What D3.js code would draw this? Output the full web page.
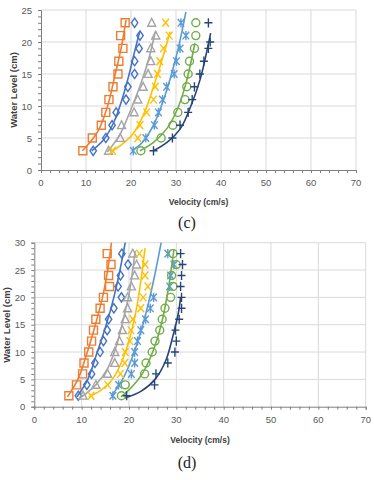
<!DOCTYPE html>
<html>
<head>
<meta charset="utf-8">
<script src="https://cdn.jsdelivr.net/npm/d3@7"></script>
<style>
  body { margin: 0; background: #fff; }
  svg { display: block; }
</style>
</head>
<body>
<svg id="chart" width="374" height="480"></svg>
<script>
const seriesColors = ["#ED7D31", "#4472C4", "#A5A5A5", "#FFC000", "#5B9BD5", "#70AD47", "#264478"];
const seriesMarkers = ["square", "diamond", "triangle", "x", "star", "circle", "plus"];

const xTicks = [0, 10, 20, 30, 40, 50, 60, 70];
const yTicksC = [0, 5, 10, 15, 20, 25];
const yTicksD = [0, 5, 10, 15, 20, 25, 30];

// panel (c) measured points [velocity, water level]
const pointsC = [
    [[9.3,3],[11.4,5],[13.4,7],[14.4,9],[15.1,11],[16.0,13],[17.1,15],[17.3,17],[18.2,19],[17.7,21],[18.7,23]],
    [[11.6,3],[14.4,5],[15.8,7],[16.7,9],[18.9,11],[19.3,13],[20.8,15],[20.8,17],[21.8,19],[22.0,21],[20.8,23]],
    [[15.0,3],[17.6,5],[17.9,7],[20.7,9],[21.5,11],[22.7,13],[23.8,15],[24.4,17],[24.4,19],[25.5,21],[24.6,23]],
    [[15.9,3],[21.5,5],[22.0,7],[23.5,9],[25.0,11],[25.4,13],[25.9,15],[26.4,17],[27.2,19],[28.5,21],[27.7,23]],
    [[20.5,3],[23.3,5],[25.2,7],[26.1,9],[27.0,11],[27.9,13],[29.6,15],[30.1,17],[30.9,19],[32.2,21],[31.1,23]],
    [[22.2,3],[26.7,5],[29.3,7],[30.4,9],[32.0,11],[32.4,13],[32.7,15],[33.0,17],[34.1,19],[34.4,21],[34.4,23]],
    [[25.0,3],[29.2,5],[30.9,7],[32.7,9],[33.6,11],[34.1,13],[35.3,15],[36.2,17],[37.2,19],[37.6,20],[37.2,23]]
];
// panel (c) trendlines
const trendsC = [
    [[9.2,3],[12.6,6],[14.8,10],[16.5,15],[17.8,19],[18.9,23.4]],
    [[11.3,3],[14.0,4.8],[16.2,7.5],[18.0,11],[19.6,15],[20.8,18.5],[21.9,21.5]],
    [[14.7,2.8],[17.5,5.5],[20.0,9.5],[22.2,13.5],[24.0,17.5],[25.4,21.6]],
    [[15.7,2.9],[18.0,4.0],[20.5,5.7],[23.0,9],[25.0,13],[26.8,17],[28.7,21.6]],
    [[20.2,3],[22.5,4.3],[25.0,7],[27.0,10.5],[28.8,14.5],[30.5,19],[32.2,24.7]],
    [[22.0,3],[25.0,4.3],[28.0,6.5],[30.3,9.5],[32.2,13.5],[34.2,19.8]],
    [[25.0,3],[28.0,4.3],[31.0,6.5],[33.3,10],[35.3,14],[37.7,21.4]]
];

// panel (d) measured points
const pointsD = [
    [[7.3,2],[8.9,4],[10.2,6],[10.5,8],[11.5,10],[12.1,12],[12.5,14],[13.0,16],[13.9,18],[14.6,20],[15.9,22],[15.7,24],[16.2,26],[15.4,28]],
    [[9.3,2],[11.1,4],[12.1,6],[12.8,8],[13.9,10],[14.6,12],[15.4,14],[15.7,16],[16.8,18],[18.4,20],[17.7,22],[18.2,24],[19.8,26],[18.5,28]],
    [[10.3,2],[13.0,4],[15.5,6],[17.0,8],[17.0,10],[18.0,12],[18.6,14],[19.2,16],[19.7,18],[19.7,20],[20.5,22],[21.2,24],[21.6,26],[20.8,28]],
    [[12.0,2],[15.5,4],[18.2,6],[19.1,8],[19.2,10],[20.2,12],[20.4,14],[20.8,16],[22.5,18],[23.0,20],[24.0,22],[23.4,24],[23.4,26],[22.2,28]],
    [[16.6,2],[17.8,4],[20.5,6],[21.2,8],[21.2,10],[21.8,12],[22.5,14],[23.5,16],[24.5,18],[25.2,20],[28.6,22],[28.8,24],[29.5,26],[28.2,28]],
    [[18.4,2],[19.2,4],[23.3,6],[23.6,8],[24.9,10],[25.5,12],[26.5,14],[27.0,16],[27.6,18],[28.8,20],[29.3,22],[29.0,24],[30.0,26],[29.3,28]],
    [[19.5,2],[25.4,4],[25.7,6],[28.2,8],[29.7,10],[30.0,12],[29.8,14],[30.6,16],[31.1,18],[31.1,20],[30.9,22],[31.1,24],[31.3,26],[30.9,28]]
];
const trendsD = [
    [[7.0,1.8],[9.2,5],[11.2,10],[12.9,15],[14.4,20],[15.5,25],[16.3,30]],
    [[9.0,1.8],[11.3,5],[13.3,10],[15.2,15],[16.8,20],[18.1,25],[19.2,30]],
    [[10.0,1.8],[13.0,4],[15.5,7],[17.3,11],[18.8,16],[20.1,21],[21.3,28.5]],
    [[11.5,1.8],[14.0,3],[16.5,5],[18.6,8.5],[20.3,13],[21.8,19],[23.4,29]],
    [[16.2,2],[18.0,4],[20.0,7.5],[21.9,12],[23.7,17.5],[25.3,23.5],[26.8,30]],
    [[18.3,1.8],[20.5,3.5],[22.8,6],[25.0,10],[26.8,15],[28.2,21],[29.5,28.8]],
    [[19.2,1.6],[22.5,2.8],[25.5,5],[27.8,8.5],[29.3,13],[30.4,17],[30.9,20]]
];

const panels = [
    {points: pointsC, trends: trendsC, yTicks: yTicksC, yMax: 25, left: 41, right: 356, top: 10, bottom: 170,
     xLabelY: 205, capY: 228, cap: "(c)", yTitleX: 17, yTitleY: 90},
    {points: pointsD, trends: trendsD, yTicks: yTicksD, yMax: 30, left: 34.3, right: 365.7, top: 242.7, bottom: 406.7,
     xLabelY: 443, capY: 468, cap: "(d)", yTitleX: 10, yTitleY: 325}
];

const svg = d3.select("#chart");

function markerPath(type) {
    switch (type) {
        case "square": return "M-4,-4H4V4H-4Z";
        case "diamond": return "M0,-4.6L3.2,0L0,4.6L-3.2,0Z";
        case "triangle": return "M0,-4.4L4,3.4H-4Z";
        case "x": return "M-3.3,-4L3.3,4M3.3,-4L-3.3,4";
        case "star": return "M-3.3,-3.8L3.3,3.8M3.3,-3.8L-3.3,3.8M0,-4.6V4.6";
        case "plus": return "M-4,0H4M0,-4.6V4.6";
        default: return d3.symbol(d3.symbolCircle, 50)();
    }
}

panels.forEach(p => {
    const g = svg.append("g");
    const xScale = d3.scaleLinear().domain([0, 70]).range([p.left, p.right]);
    const yScale = d3.scaleLinear().domain([0, p.yMax]).range([p.bottom, p.top]);

    // gridlines
    g.append("g").selectAll("line")
        .data(xTicks.slice(1))
        .enter().append("line")
        .attr("x1", d => xScale(d)).attr("x2", d => xScale(d))
        .attr("y1", p.top).attr("y2", p.bottom)
        .attr("stroke", "#d9d9d9").attr("stroke-width", 1);
    g.append("g").selectAll("line")
        .data(p.yTicks.slice(1))
        .enter().append("line")
        .attr("x1", p.left).attr("x2", p.right)
        .attr("y1", d => yScale(d)).attr("y2", d => yScale(d))
        .attr("stroke", "#d9d9d9").attr("stroke-width", 1);

    // axes with minor ticks
    const xAxis = d3.axisBottom(xScale).tickValues(d3.range(0, 71, 2)).tickSize(3).tickFormat("");
    const gx = g.append("g").attr("transform", `translate(0,${p.bottom})`).call(xAxis);
    const yAxis = d3.axisLeft(yScale).tickValues(d3.range(0, p.yMax + 1, 1)).tickSize(3).tickFormat("");
    const gy = g.append("g").attr("transform", `translate(${p.left},0)`).call(yAxis);
    [gx, gy].forEach(a => {
        a.select(".domain").attr("stroke", "#7f7f7f");
        a.selectAll(".tick line").attr("stroke", "#7f7f7f");
    });

    // tick labels
    g.append("g").selectAll("text")
        .data(xTicks)
        .enter().append("text")
        .attr("x", d => xScale(d)).attr("y", p.bottom + 16)
        .attr("text-anchor", "middle")
        .attr("font-family", "Liberation Sans, Arial, sans-serif")
        .attr("font-size", 9.5).attr("fill", "#595959")
        .text(d => d);
    g.append("g").selectAll("text")
        .data(p.yTicks)
        .enter().append("text")
        .attr("x", p.left - 9).attr("y", d => yScale(d) + 3.5)
        .attr("text-anchor", "end")
        .attr("font-family", "Liberation Sans, Arial, sans-serif")
        .attr("font-size", 9.5).attr("fill", "#595959")
        .text(d => d);

    // axis titles
    g.append("text")
        .attr("x", (p.left + p.right) / 2).attr("y", p.xLabelY)
        .attr("text-anchor", "middle")
        .attr("font-family", "Liberation Sans, Arial, sans-serif")
        .attr("font-size", 8.5).attr("font-weight", "bold").attr("fill", "#404040")
        .text("Velocity (cm/s)");
    g.append("text")
        .attr("transform", `translate(${p.yTitleX},${p.yTitleY}) rotate(-90)`)
        .attr("text-anchor", "middle")
        .attr("font-family", "Liberation Sans, Arial, sans-serif")
        .attr("font-size", 9.5).attr("font-weight", "bold").attr("fill", "#404040")
        .text("Water Level (cm)");

    // trendlines
    const line = d3.line()
        .x(d => xScale(d[0]))
        .y(d => yScale(d[1]))
        .curve(d3.curveCatmullRom.alpha(0.5));
    g.append("g").selectAll("path")
        .data(p.trends)
        .enter().append("path")
        .attr("d", line)
        .attr("fill", "none")
        .attr("stroke", (d, i) => seriesColors[i])
        .attr("stroke-width", 1.6);

    // markers
    p.points.forEach((pts, i) => {
        g.append("g").selectAll("path")
            .data(pts)
            .enter().append("path")
            .attr("transform", d => `translate(${xScale(d[0])},${yScale(d[1])})`)
            .attr("d", markerPath(seriesMarkers[i]))
            .attr("fill", "none")
            .attr("stroke", seriesColors[i])
            .attr("stroke-width", 1.4);
    });

    // caption
    svg.append("text")
        .attr("x", 187).attr("y", p.capY)
        .attr("text-anchor", "middle")
        .attr("font-family", "Liberation Serif, Times New Roman, serif")
        .attr("font-size", 16).attr("fill", "#222")
        .text(p.cap);
});
</script>
</body>
</html>
